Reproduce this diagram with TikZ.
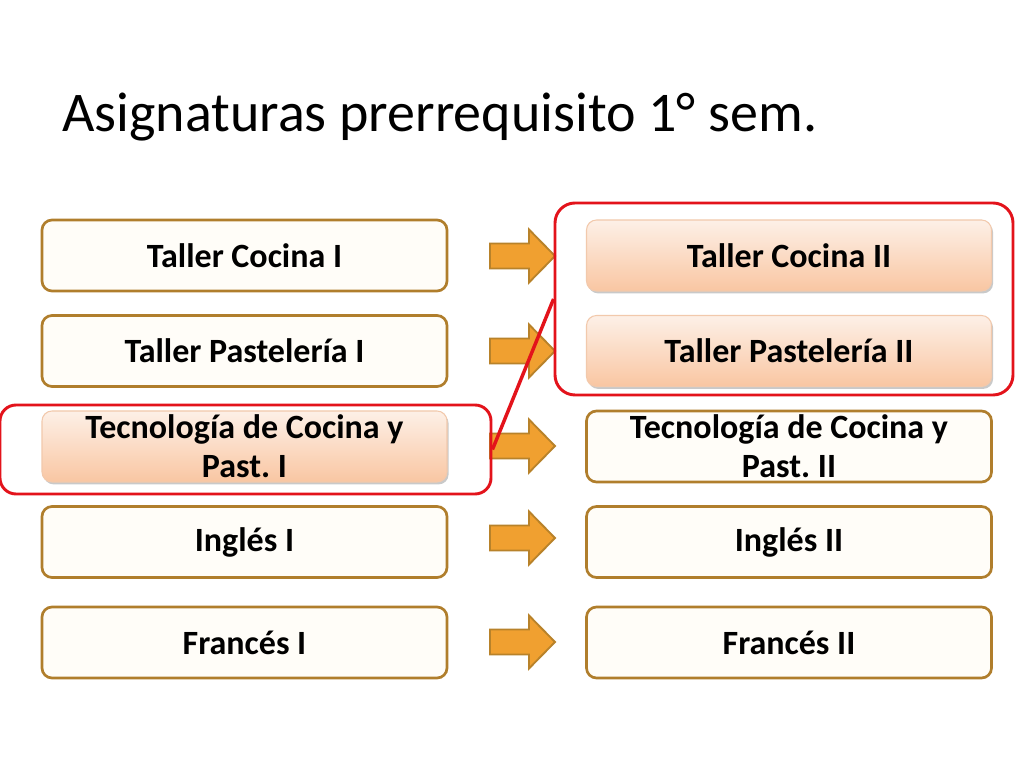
\documentclass[tikz,border=0pt]{standalone}
\usepackage{fontspec}
\setmainfont{Carlito}
\frenchspacing
\usetikzlibrary{shadows,calc}
\definecolor{boxborder}{HTML}{B07E2C}
\definecolor{boxfill}{HTML}{FFFDF8}
\definecolor{arrfill}{HTML}{F0A030}
\definecolor{arrdraw}{HTML}{B8822A}
\definecolor{hltop}{HTML}{FDF0E7}
\definecolor{hlbot}{HTML}{F9C6A2}
\definecolor{hlborder}{HTML}{F2C9AC}
\definecolor{redmark}{HTML}{E3131B}
\tikzset{
  course/.style={rectangle, rounded corners=7.5pt, minimum width=303.75pt, minimum height=53.25pt,
    inner sep=0pt, align=center, font=\fontsize{25.5}{29}\selectfont\bfseries},
  plainbox/.style={course, draw=boxborder, line width=2pt, fill=boxfill},
  hlbox/.style={course, draw=hlborder, line width=0.8pt, top color=hltop, bottom color=hlbot,
    drop shadow={shadow xshift=1.2pt, shadow yshift=-1.8pt, opacity=0.35, fill=black!60}},
  blockarrow/.style={fill=arrfill, draw=arrdraw, line width=1.4pt, line join=miter},
  redbox/.style={draw=redmark, line width=2.2pt, rounded corners=15pt},
  redline/.style={draw=redmark, line width=2.6pt}
}
\begin{document}
\begin{tikzpicture}[x=0.75pt,y=-0.75pt]
\useasboundingbox (0,0) rectangle (1024,762);
\fill[white] (0,0) rectangle (1024,762);
\node[anchor=base west, font=\fontsize{42}{50}\selectfont, inner sep=0pt] (title) at (62,132) {Asignaturas prerrequisito 1° sem.};
% left column
\node[plainbox] (l1) at (244.5,255.5) {Taller Cocina I};
\node[plainbox] (l2) at (244.5,351) {Taller Pastelería I};
\node[hlbox] (l3) at (244.5,446.5) {Tecnología de Cocina y\\Past. I};
\node[plainbox] (l4) at (244.5,542) {Inglés I};
\node[plainbox] (l5) at (244.5,642.5) {Francés I};
% right column
\node[hlbox] (r1) at (789,255.5) {Taller Cocina II};
\node[hlbox] (r2) at (789,351) {Taller Pastelería II};
\node[plainbox] (r3) at (789,446.5) {Tecnología de Cocina y\\Past. II};
\node[plainbox] (r4) at (789,542) {Inglés II};
\node[plainbox] (r5) at (789,642.5) {Francés II};
% block arrows
\foreach \yy in {256,351,446,538,642}{
  \draw[blockarrow] (490,\yy-12.5) -- (529,\yy-12.5) -- (529,\yy-26.5) -- (555,\yy) -- (529,\yy+26.5) -- (529,\yy+12.5) -- (490,\yy+12.5) -- cycle;
}
% red highlights
\node[redbox, minimum width=343.5pt, minimum height=144pt, inner sep=0pt] (hl1) at (784,299) {};
\node[redbox, minimum width=368.25pt, minimum height=66.75pt, inner sep=0pt, rounded corners=12pt] (hl2) at (245.5,449.5) {};
\draw[redline] (hl2.east) -- (hl1.west);
\end{tikzpicture}
\end{document}
